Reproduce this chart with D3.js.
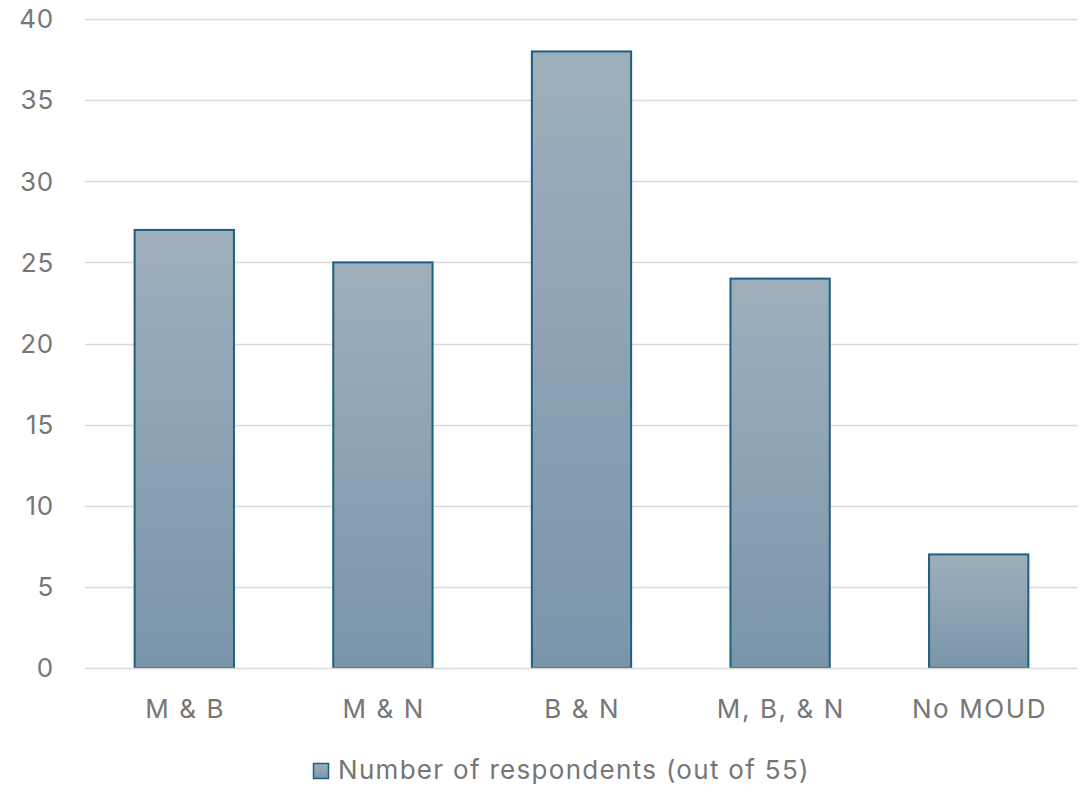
<!DOCTYPE html>
<html>
<head>
<meta charset="utf-8">
<script src="https://cdn.jsdelivr.net/npm/d3@7"></script>
<style>
  html, body { margin: 0; padding: 0; background: #fff; }
  svg text { font-family: Inter, "Open Sans", "Liberation Sans", Arial, sans-serif; fill: #767676; }
</style>
</head>
<body>
<svg id="chart" width="1087" height="786"></svg>
<script>
const categories = ["M & B", "M & N", "B & N", "M, B, & N", "No MOUD"];
const respondents = [27, 25, 38, 24, 7];
const yTicks = [0, 5, 10, 15, 20, 25, 30, 35, 40];
const seriesName = "Number of respondents (out of 55)";

const svg = d3.select("#chart");
const margin = { left: 85, right: 9, top: 19, bottom: 118 };
const W = 1087, H = 786;

const x = d3.scaleBand()
  .domain(categories)
  .range([margin.left, W - margin.right])
  .paddingInner(0.5)
  .paddingOuter(0.25);

const y = d3.scaleLinear()
  .domain([0, 40])
  .range([H - margin.bottom, margin.top]);

// bar fill: light at top, darker toward the base
const defs = svg.append("defs");
const grad = defs.append("linearGradient")
  .attr("id", "barFill")
  .attr("x1", 0).attr("y1", 0).attr("x2", 0).attr("y2", 1);
grad.append("stop").attr("offset", "0%").attr("stop-color", "#9eafbc");
grad.append("stop").attr("offset", "100%").attr("stop-color", "#7a95aa");

// horizontal gridlines
svg.append("g")
  .selectAll("line")
  .data(yTicks.filter(d => d > 0))
  .join("line")
  .attr("x1", margin.left)
  .attr("x2", W - margin.right)
  .attr("y1", d => Math.round(y(d)) + 0.5)
  .attr("y2", d => Math.round(y(d)) + 0.5)
  .attr("stroke", "#d9d9d9")
  .attr("stroke-width", 1.5);

// y tick labels
svg.append("g")
  .selectAll("text")
  .data(yTicks)
  .join("text")
  .attr("x", 54)
  .attr("y", d => y(d))
  .attr("dy", "0.36em")
  .attr("text-anchor", "end")
  .attr("font-size", 26)
  .attr("letter-spacing", 0.8)
  .text(d => d);

// bars
svg.append("g")
  .selectAll("rect")
  .data(categories.map((c, i) => ({ c, v: respondents[i] })))
  .join("rect")
  .attr("x", d => x(d.c))
  .attr("y", d => y(d.v))
  .attr("width", x.bandwidth())
  .attr("height", d => y(0) - y(d.v))
  .attr("fill", "url(#barFill)")
  .attr("stroke", "#1d5f80")
  .attr("stroke-width", 2);

// baseline
svg.append("line")
  .attr("x1", margin.left)
  .attr("x2", W - margin.right)
  .attr("y1", y(0) + 0.5)
  .attr("y2", y(0) + 0.5)
  .attr("stroke", "#d9d9d9")
  .attr("stroke-width", 1.5);

// category labels
const catSpacing = 1.6;
svg.append("g")
  .selectAll("text")
  .data(categories)
  .join("text")
  .attr("x", d => x(d) + x.bandwidth() / 2 + catSpacing / 2)
  .attr("y", y(0) + 50)
  .attr("text-anchor", "middle")
  .attr("font-size", 26)
  .attr("letter-spacing", catSpacing)
  .text(d => d);

// legend
const legend = svg.append("g");
legend.append("rect")
  .attr("x", 313.5).attr("y", 763.5)
  .attr("width", 15).attr("height", 15)
  .attr("fill", "url(#barFill)")
  .attr("stroke", "#1d5f80")
  .attr("stroke-width", 1.5);
legend.append("text")
  .attr("x", 338)
  .attr("y", 779)
  .attr("font-size", 26)
  .attr("letter-spacing", 1.3)
  .text(seriesName);
</script>
</body>
</html>
